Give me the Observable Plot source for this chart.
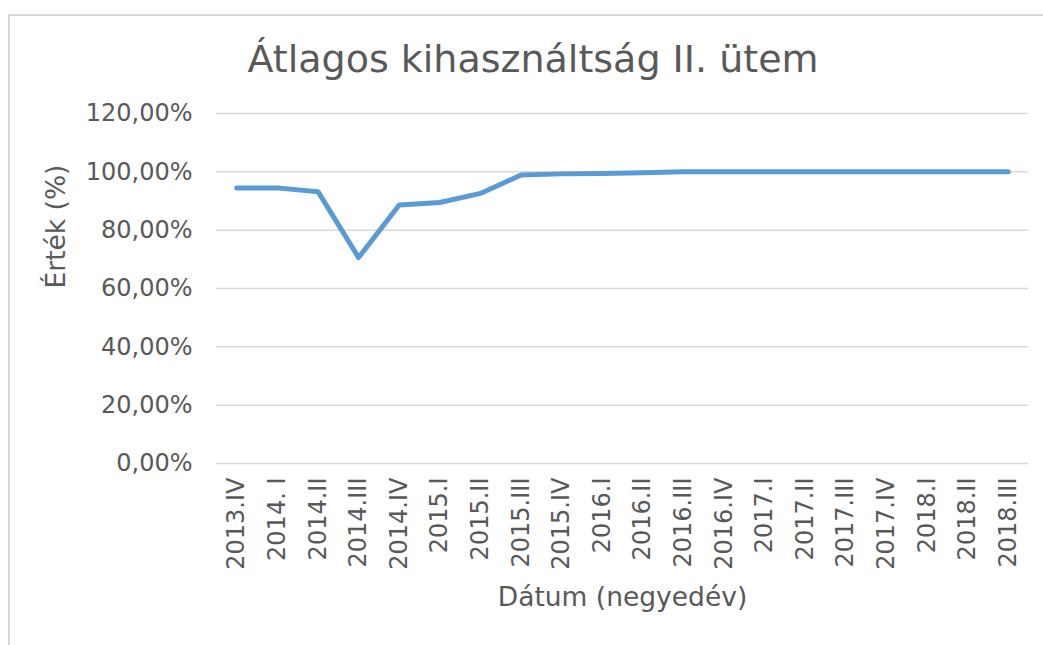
<!DOCTYPE html>
<html>
<head>
<meta charset="utf-8">
<script src="https://cdn.jsdelivr.net/npm/d3@7"></script>
<script src="https://cdn.jsdelivr.net/npm/@observablehq/plot@0.6"></script>
<style>
  html, body { margin: 0; padding: 0; background: #fff; }
  #wrap { position: relative; width: 1043px; height: 645px; overflow: hidden; font-family: "DejaVu Sans", Verdana, sans-serif; }
  #frame { position: absolute; left: 8px; top: 14px; width: 2000px; height: 1000px; border-left: 2px solid #d9d9d9; border-top: 2px solid #d9d9d9; }
  #title { position: absolute; left: 0; top: 40px; width: 1066px; text-align: center; font-size: 38px; line-height: 38px; color: #595959; white-space: nowrap; }
  #chart { position: absolute; left: 0; top: 100px; }
</style>
</head>
<body>
<div id="wrap">
  <div id="frame"></div>
  <div id="title">Átlagos kihasználtság II. ütem</div>
  <div id="chart"></div>
</div>
<script>
const categories = ["2013.IV", "2014. I", "2014.II", "2014.III", "2014.IV", "2015.I", "2015.II", "2015.III", "2015.IV", "2016.I", "2016.II", "2016.III", "2016.IV", "2017.I", "2017.II", "2017.III", "2017.IV", "2018.I", "2018.II", "2018.III"];
const values = [94.5, 94.5, 93.2, 70.6, 88.6, 89.5, 92.6, 98.9, 99.3, 99.4, 99.7, 100, 100, 100, 100, 100, 100, 100, 100, 100];
const yTicks = [0, 20, 40, 60, 80, 100, 120];
const yLabel = "Érték (%)";
const xLabel = "Dátum (negyedév)";

const data = categories.map((c, i) => ({ cat: c, val: values[i] }));
const fmt = d => d.toFixed(2).replace(".", ",") + "%";

const chart = Plot.plot({
  width: 1043,
  height: 545,
  marginLeft: 216,
  marginRight: 15,
  marginTop: 13,
  marginBottom: 182,
  style: { fontFamily: "'DejaVu Sans', Verdana, sans-serif", fontSize: "24px", color: "#595959", background: "transparent", overflow: "visible" },
  x: { type: "point", domain: categories, padding: 0.5, round: false },
  y: { domain: [0, 120] },
  marks: [
    Plot.gridY(yTicks, { stroke: "#d9d9d9", strokeOpacity: 1, strokeWidth: 1.5 }),
    Plot.axisY(yTicks, { tickSize: 0, tickPadding: 24, tickFormat: fmt, label: null, fill: "#595959" }),
    Plot.axisX({ tickSize: 0, tickPadding: 14, tickRotate: -90, label: null, fill: "#595959" }),
    Plot.line(data, { x: "cat", y: "val", stroke: "#5b9bd5", strokeWidth: 5, strokeLinecap: "round", strokeLinejoin: "round" }),
    Plot.text([yLabel], { frameAnchor: "left", dx: -160, rotate: -90, fill: "#595959", fontSize: 26.5 }),
    Plot.text([xLabel], { frameAnchor: "bottom", dy: 142, fill: "#595959", fontSize: 26.5 })
  ]
});
document.getElementById("chart").appendChild(chart);
</script>
</body>
</html>
